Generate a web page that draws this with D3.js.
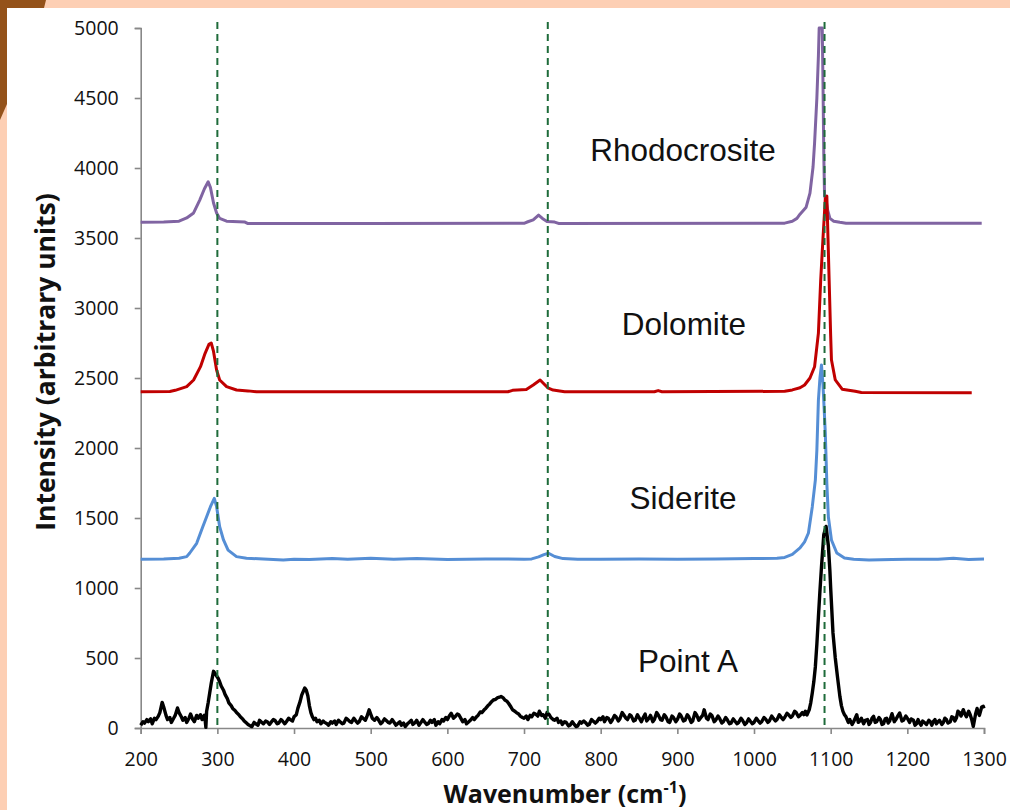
<!DOCTYPE html>
<html>
<head>
<meta charset="utf-8">
<script src="https://cdn.jsdelivr.net/npm/d3@7"></script>
<style>
  html,body{margin:0;padding:0;background:#fff;}
  svg{display:block;}
</style>
</head>
<body>
<svg id="chart" width="1010" height="810"></svg>
<script>
// ---------- data ----------
const xTicks = [200,300,400,500,600,700,800,900,1000,1100,1200,1300];
const yTicks = [0,500,1000,1500,2000,2500,3000,3500,4000,4500,5000];
const refLines = [300, 731, 1092];

const seriesNames = ["Rhodocrosite","Dolomite","Siderite","Point A"];

const rhodocrosite = [[200,3612],[230,3614],[250,3620],[260,3643],[269,3679],[277,3771],[283,3850],[288,3902],[291,3860],[295,3750],[299,3679],[303,3640],[312,3620],[336,3614],[340,3603],[500,3603],[700,3605],[705,3616],[712,3630],[719,3664],[724,3640],[730,3618],[740,3614],[745,3604],[1040,3606],[1050,3620],[1056,3640],[1060,3670],[1068,3720],[1073,3821],[1077,4007],[1079,4178],[1082,4500],[1084,4800],[1085,5000],[1089,5000],[1090,4600],[1091,4100],[1092,3800],[1094,3770],[1096,3700],[1099,3640],[1104,3620],[1112,3612],[1120,3605],[1297,3605]];

const dolomite = [[200,2402],[238,2404],[245,2412],[260,2438],[269,2486],[278,2581],[284,2676],[289,2740],[292,2750],[295,2690],[299,2557],[303,2486],[312,2438],[325,2414],[340,2408],[351,2402],[679,2402],[685,2412],[703,2418],[712,2450],[721,2486],[731,2430],[738,2414],[753,2402],[870,2402],[875,2410],[880,2402],[1040,2405],[1050,2415],[1060,2430],[1066,2450],[1073,2500],[1079,2580],[1084,2820],[1087,3200],[1090,3500],[1093,3780],[1095,3800],[1098,3200],[1100,2800],[1101,2630],[1106,2486],[1115,2420],[1132,2405],[1140,2396],[1284,2395]];

const siderite = [[200,1205],[230,1207],[250,1212],[260,1224],[264,1250],[273,1319],[281,1438],[286,1509],[291,1581],[296,1640],[299,1581],[303,1438],[308,1343],[314,1271],[325,1224],[338,1212],[360,1208],[386,1200],[400,1206],[420,1203],[450,1210],[470,1205],[500,1212],[530,1206],[560,1210],[600,1204],[650,1208],[700,1206],[710,1208],[719,1222],[726,1238],[732,1248],[740,1225],[751,1210],[770,1205],[800,1206],[850,1208],[900,1205],[950,1207],[1000,1210],[1030,1212],[1040,1218],[1050,1240],[1060,1286],[1066,1330],[1071,1393],[1076,1579],[1080,1771],[1082,1986],[1084,2343],[1086,2500],[1088,2593],[1090,2450],[1093,2107],[1095,1750],[1097,1507],[1101,1343],[1108,1250],[1118,1214],[1130,1205],[1150,1200],[1180,1204],[1200,1205],[1240,1206],[1260,1212],[1280,1204],[1300,1208]];

const pointA = [[200,20],[203,45],[205,35],[208,60],[210,45],[213,65],[215,30],[218,70],[220,60],[223,85],[225,110],[228,183],[230,150],[233,90],[235,60],[238,75],[240,40],[243,70],[245,90],[248,143],[250,110],[253,80],[255,55],[258,75],[260,40],[263,70],[265,100],[268,60],[270,45],[273,90],[275,70],[278,95],[280,60],[283,90],[284,60],[285,5],[286,120],[288,180],[290,250],[292,320],[295,405],[298,380],[301,355],[303,330],[305,300],[308,270],[310,240],[313,210],[315,180],[318,160],[320,140],[323,125],[325,110],[328,95],[330,80],[333,65],[335,50],[338,35],[340,25],[343,15],[345,10],[348,40],[350,30],[353,20],[355,55],[358,40],[360,30],[363,50],[365,45],[368,25],[370,40],[373,60],[375,55],[378,30],[380,35],[383,60],[385,50],[388,30],[390,45],[393,70],[395,60],[398,50],[400,80],[403,95],[405,140],[408,190],[410,235],[414,286],[416,270],[418,230],[420,160],[422,110],[424,80],[426,60],[428,70],[430,45],[433,55],[435,30],[438,50],[440,40],[443,30],[445,20],[448,45],[450,35],[453,50],[455,25],[458,55],[460,45],[463,30],[465,35],[468,70],[470,60],[473,45],[475,40],[478,70],[480,55],[483,35],[485,45],[488,80],[490,70],[493,55],[495,80],[498,130],[500,100],[502,70],[505,55],[508,75],[510,60],[513,30],[515,40],[518,65],[520,55],[523,40],[525,35],[528,60],[530,45],[533,20],[535,30],[538,45],[540,20],[543,35],[545,10],[548,30],[550,40],[553,55],[555,25],[558,40],[560,55],[563,20],[565,35],[568,60],[570,45],[573,25],[575,30],[578,55],[580,40],[583,60],[585,20],[588,45],[590,30],[593,60],[595,50],[598,75],[600,60],[603,90],[605,105],[608,70],[610,80],[613,100],[615,95],[618,65],[620,45],[623,60],[625,30],[628,45],[630,55],[633,75],[635,60],[638,80],[640,90],[643,115],[645,110],[648,130],[650,140],[653,160],[655,170],[658,190],[660,200],[663,205],[665,215],[668,220],[670,225],[673,215],[675,200],[678,190],[680,175],[683,150],[685,130],[688,120],[690,110],[693,100],[695,85],[698,75],[700,70],[703,85],[705,60],[708,90],[710,80],[713,105],[715,100],[718,85],[720,120],[723,90],[725,95],[728,70],[730,110],[733,95],[735,75],[738,60],[740,55],[743,70],[745,40],[748,50],[750,25],[753,45],[755,40],[758,15],[760,20],[763,45],[765,30],[768,10],[770,15],[773,45],[775,35],[778,50],[780,40],[783,20],[785,25],[788,60],[790,50],[793,35],[795,45],[798,70],[800,60],[803,80],[805,45],[808,75],[810,70],[813,40],[815,55],[818,90],[820,80],[823,50],[825,65],[828,110],[830,95],[833,70],[835,60],[838,95],[840,85],[843,50],[845,55],[848,95],[850,75],[853,45],[855,70],[858,100],[860,50],[863,70],[865,90],[868,45],[870,60],[873,110],[875,95],[878,60],[880,55],[883,95],[885,80],[888,45],[890,40],[893,85],[895,75],[898,45],[900,60],[903,100],[905,85],[908,50],[910,55],[913,95],[915,80],[918,40],[920,50],[923,110],[925,95],[928,55],[930,70],[933,90],[935,130],[938,70],[940,60],[943,100],[945,90],[948,45],[950,55],[953,85],[955,70],[958,35],[960,45],[963,75],[965,60],[968,30],[970,35],[973,65],[975,50],[978,30],[980,40],[983,70],[985,55],[988,25],[990,35],[993,65],[995,50],[998,30],[1000,40],[1003,70],[1005,55],[1008,35],[1010,45],[1013,75],[1015,65],[1018,40],[1020,50],[1023,85],[1025,70],[1028,50],[1030,60],[1033,95],[1035,80],[1038,60],[1040,75],[1043,105],[1045,95],[1048,75],[1050,85],[1053,120],[1055,110],[1058,80],[1060,90],[1063,110],[1065,95],[1067,120],[1069,93],[1072,130],[1074,180],[1076,250],[1078,330],[1080,436],[1082,600],[1084,793],[1086,980],[1088,1150],[1091,1380],[1094,1440],[1097,1300],[1099,1120],[1100,1000],[1103,679],[1106,500],[1109,360],[1112,226],[1114,160],[1116,119],[1118,95],[1120,80],[1123,40],[1125,60],[1128,25],[1130,45],[1132,70],[1134,95],[1136,40],[1138,50],[1140,70],[1143,30],[1145,55],[1148,60],[1150,25],[1152,40],[1154,70],[1156,83],[1158,40],[1160,45],[1163,75],[1165,60],[1167,25],[1169,30],[1171,65],[1173,70],[1175,35],[1177,50],[1179,85],[1180,102],[1183,45],[1185,60],[1188,90],[1190,107],[1193,50],[1195,55],[1198,85],[1200,70],[1203,40],[1205,65],[1208,55],[1210,20],[1212,30],[1214,60],[1216,36],[1218,20],[1220,50],[1223,35],[1225,25],[1228,55],[1230,45],[1232,20],[1234,48],[1236,60],[1238,30],[1240,45],[1242,55],[1245,25],[1247,40],[1249,70],[1251,60],[1253,35],[1256,45],[1258,80],[1260,75],[1262,50],[1264,71],[1266,120],[1268,110],[1270,85],[1273,131],[1275,100],[1277,80],[1280,120],[1282,95],[1284,60],[1286,12],[1288,70],[1289,100],[1291,140],[1292,119],[1294,90],[1295,110],[1297,150],[1299,155],[1300,140]];

const seriesData = [rhodocrosite, dolomite, siderite, pointA];
const seriesColors = ["#8064A2","#C00000","#558ED5","#000000"];
// label anchor: [x pixel centre, data value at text baseline]
const labelPos = [[683,4050],[684,2807],[683,1564],[688,400]];

// ---------- layout ----------
const svg = d3.select("#chart");
const W = 1010, H = 810;

// background frame
svg.append("rect").attr("x",0).attr("y",0).attr("width",W).attr("height",H).attr("fill","#FDCFB4");
svg.append("rect").attr("x",7).attr("y",8).attr("width",W-7).attr("height",H-8).attr("fill","#ffffff");
svg.append("path").attr("d","M0,0 L46,0 L44,8 L7,8 L7,104 L0,120 Z").attr("fill","#94521A");

const x = d3.scaleLinear().domain([200,1300]).range([140.7,984]);
const y = d3.scaleLinear().domain([0,5000]).range([728,28]);

const axisColor = "#888888";
const tickFont = "'Open Sans', sans-serif";

// Y axis
const yAxis = svg.append("g").attr("transform","translate(140.7,0)")
  .call(d3.axisLeft(y).tickValues(yTicks).tickSize(6).tickPadding(16).tickFormat(d3.format("d")));
yAxis.select(".domain").attr("stroke",axisColor).attr("stroke-width",1.6);
yAxis.selectAll(".tick line").attr("stroke",axisColor).attr("stroke-width",1.6);
yAxis.selectAll(".tick text").attr("fill","#111").style("font-family",tickFont).style("font-size","19.5px");

// X axis
const xAxis = svg.append("g").attr("transform","translate(0,728)")
  .call(d3.axisBottom(x).tickValues(xTicks).tickSize(6).tickPadding(18).tickFormat(d3.format("d")));
xAxis.select(".domain").attr("stroke",axisColor).attr("stroke-width",1.6);
xAxis.selectAll(".tick line").attr("stroke",axisColor).attr("stroke-width",1.6);
xAxis.selectAll(".tick text").attr("fill","#111").style("font-family",tickFont).style("font-size","19.5px");

// series lines
const line = d3.line().x(d=>x(d[0])).y(d=>y(d[1]));
seriesData.forEach((s,i)=>{
  svg.append("path").datum(s).attr("d",line)
    .attr("fill","none").attr("stroke",seriesColors[i])
    .attr("stroke-width", i===3 ? 3.4 : 3)
    .attr("stroke-linejoin","round");
});

// dashed reference lines
svg.selectAll(".ref").data(refLines).enter().append("line")
  .attr("x1",d=>x(d)).attr("x2",d=>x(d))
  .attr("y1",y(5000)-6).attr("y2",y(0))
  .attr("stroke","#1E6B3A").attr("stroke-width",2).attr("stroke-dasharray","7,5");

// series labels
seriesNames.forEach((n,i)=>{
  svg.append("text").attr("x",labelPos[i][0]).attr("y",y(labelPos[i][1]))
    .attr("text-anchor","middle")
    .style("font-family","'Liberation Sans', Arial, sans-serif").style("font-size","31.5px")
    .attr("fill","#111").text(n);
});

// axis titles
svg.append("text")
  .attr("transform","translate(55,362) rotate(-90)")
  .attr("text-anchor","middle")
  .style("font-family","'Open Sans', sans-serif").style("font-weight","bold").style("font-size","26.5px")
  .attr("fill","#111").text("Intensity (arbitrary units)");

const xt = svg.append("text").attr("x",565).attr("y",803).attr("text-anchor","middle")
  .style("font-family","'Open Sans', sans-serif").style("font-weight","bold").style("font-size","25px")
  .attr("fill","#111");
xt.append("tspan").text("Wavenumber (cm");
xt.append("tspan").attr("dy",-10).style("font-size","16px").text("-1");
xt.append("tspan").attr("dy",10).text(")");
</script>
</body>
</html>
